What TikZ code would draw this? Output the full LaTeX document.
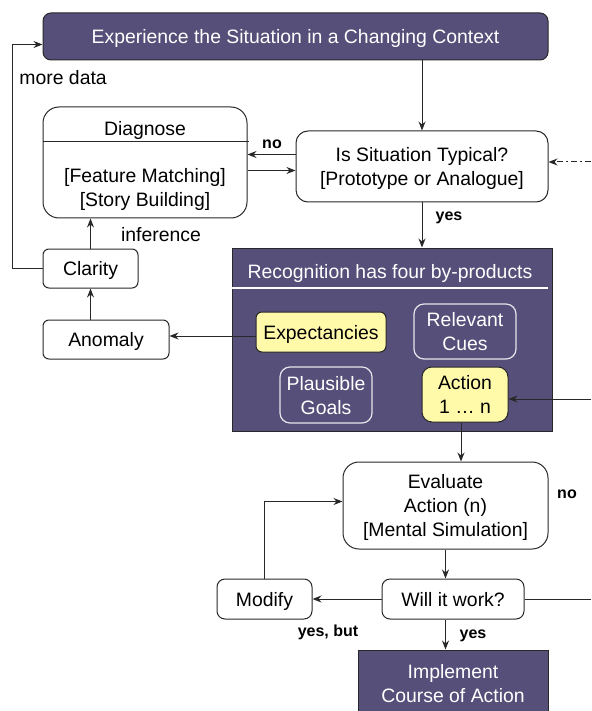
\documentclass[tikz,border=0pt]{standalone}
\usepackage{fontspec}
\setmainfont{Liberation Sans}
\usetikzlibrary{arrows.meta}

\definecolor{rpdpurple}{RGB}{86,79,121}
\definecolor{rpdyellow}{RGB}{255,249,170}
\definecolor{rpdline}{RGB}{40,40,40}

\begin{document}
\begin{tikzpicture}[x=0.5pt, y=-0.5pt,
  txt/.style={font=\fontsize{9.7}{12}\selectfont, align=center, inner sep=0pt, text depth=0pt},
  lbl/.style={font=\fontsize{8}{10}\selectfont\bfseries, inner sep=0pt},
  box/.style={txt, draw=rpdline, line width=0.5pt, fill=white},
  dark/.style={txt, draw=rpdline, line width=0.5pt, fill=rpdpurple, text=white},
  inbox/.style={txt, draw=white!85!rpdpurple, line width=0.6pt, text=white},
  ybox/.style={txt, draw=rpdline, line width=0.5pt, fill=rpdyellow},
  arr/.style={-{Stealth[length=4.5pt, width=3.5pt]}, line width=0.5pt, rpdline}
]
\useasboundingbox (0,0) rectangle (591,711);

% Top and bottom bars
\node[dark, rounded corners=4pt, minimum width=252.5pt, minimum height=23.5pt] (top) at (295.5,36.5)
  {Experience the Situation in a Changing Context};
\node[dark, minimum width=95pt, minimum height=33pt] (impl) at (453,683)
  {Implement\\Course of Action};

% Typicality check
\node[box, rounded corners=6pt, minimum width=126pt, minimum height=35.5pt] (typical) at (422,166.5)
  {Is Situation Typical?\\{[Prototype or Analogue]}};

% Diagnose box
\node[box, rounded corners=8pt, minimum width=102pt, minimum height=55.5pt] (diag) at (145,162.5) {};
\node[txt] (diagtitle) at (145,128) {Diagnose};
\node[txt] (diagbody) at (145,187) {{[Feature Matching]}\\{[Story Building]}};
\draw[line width=0.5pt, rpdline] (diag.west |- 0,142) -- (249,142);

% Clarity and anomaly
\node[box, rounded corners=3pt, minimum width=47.5pt, minimum height=19.5pt] (clarity) at (90.5,268.5) {Clarity};
\node[box, rounded corners=3pt, minimum width=63pt, minimum height=19.5pt] (anomaly) at (106,339.5) {Anomaly};

% Recognition block
\node[dark, minimum width=160pt, minimum height=91.5pt] (recog) at (392,339.5) {};
\node[txt, text=white] (recogtitle) at (390,271) {Recognition has four by-products};
\draw[white, line width=0.6pt] (recog.west |- 0,288) -- (548,288);
\node[ybox, rounded corners=3pt, minimum width=65pt, minimum height=20pt] (expect) at (321,332) {Expectancies};
\node[inbox, rounded corners=5pt, minimum width=51pt, minimum height=27.5pt] (cues) at (465,331.5) {Relevant\\Cues};
\node[inbox, rounded corners=5pt, minimum width=46pt, minimum height=28pt] (goals) at (326,395) {Plausible\\Goals};
\node[ybox, rounded corners=5pt, minimum width=43pt, minimum height=27.5pt] (action) at (465,394.5) {Action\\1 \dots\ n};

% Evaluation loop
\node[box, rounded corners=8pt, minimum width=102.5pt, minimum height=43.5pt] (eval) at (445.5,505.5)
  {Evaluate\\Action (n)\\{[Mental Simulation]}};
\node[box, rounded corners=4pt, minimum width=71pt, minimum height=20pt] (will) at (453,599) {Will it work?};
\node[box, rounded corners=4pt, minimum width=47.5pt, minimum height=20pt] (modify) at (264.5,599) {Modify};

% Free ends at the right border and the loop line on the left
\coordinate (ext1) at (591,162);
\coordinate (ext2) at (591,399);
\coordinate (ext3) at (591,599);
\coordinate (loop) at (12,0);

% Connectors
\draw[arr] (top.south -| typical.north) -- (typical.north);
\draw[arr] ([yshift=6pt]typical.west) -- ([yshift=6pt]typical.west -| diag.east);
\draw[arr] ([yshift=-4pt]diag.east) -- ([yshift=-4pt]diag.east -| typical.west);
\draw[arr, dash pattern=on 3pt off 1.5pt on 1pt off 1.5pt] (ext1) -- (ext1 -| typical.east);
\draw[arr] (typical.south) -- (typical.south |- recog.north);
\draw[arr] ([yshift=-2pt]expect.west) -- ([yshift=-2pt]expect.west -| anomaly.east);
\draw[arr] (anomaly.north -| clarity) -- (clarity.south);
\draw[arr] (clarity.north) -- (clarity.north |- diag.south);
\draw[arr] (clarity.west) -- (clarity.west -| loop) |- ([yshift=-4pt]top.west);
\draw[arr] (ext2) -- (ext2 -| action.east);
\draw[arr] ([xshift=-2pt]action.south) -- ([xshift=-2pt]action.south |- eval.north);
\draw[arr] (eval.south) -- (eval.south |- will.north);
\draw[arr] (will.west) -- (modify.east);
\draw[arr] (modify.north) |- ([yshift=2pt]eval.west);
\draw[line width=0.5pt, rpdline] (will.east) -- (ext3);
\draw[arr] (eval.south |- will.south) -- (eval.south |- impl.north);

% Labels
\node[lbl] (nolbl) at (272,144) {no};
\node[lbl] (yeslbl) at (449,218) {yes};
\node[txt] (inflbl) at (161,234) {inference};
\node[txt, anchor=west] (morelbl) at (19,77) {more data};
\node[lbl] (nolbl2) at (567,494) {no};
\node[lbl] (butlbl) at (328,632) {yes, but};
\node[lbl] (yeslbl2) at (473,636) {yes};

\end{tikzpicture}
\end{document}
